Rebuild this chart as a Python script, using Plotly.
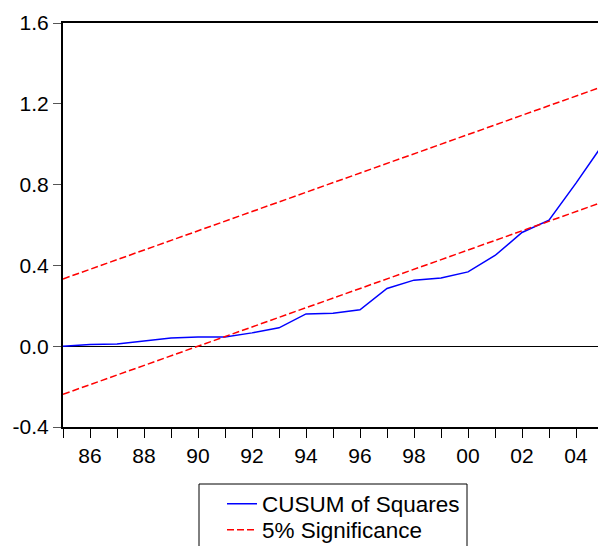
import plotly.graph_objects as go

years = list(range(1985, 2006))
cusum_sq = [0.000, 0.008, 0.011, 0.025, 0.041, 0.045, 0.046, 0.066, 0.091, 0.160,
            0.163, 0.180, 0.286, 0.327, 0.338, 0.368, 0.449, 0.563, 0.624, 0.807, 1.000]
sig_years = [1985, 2005]
sig_upper = [0.333, 1.286]
sig_lower = [-0.238, 0.714]

xtick_vals = list(range(1985, 2005))
xtick_text = ["" if y % 2 else f"{y % 100:02d}" for y in xtick_vals]
ytick_vals = [-0.4, 0.0, 0.4, 0.8, 1.2, 1.6]
ytick_text = ["-0.4", "0.0", "0.4", "0.8", "1.2", "1.6"]

W, H = 598, 546
L, R, T, B = 63, 0, 23, 119
pw = W - L - R
ph = H - T - B

def px_x(p):
    return (p - L) / pw

def px_y(p):
    return (H - B - p) / ph

fig = go.Figure()
fig.add_trace(go.Scatter(x=years, y=cusum_sq, mode="lines", name="CUSUM of Squares",
                         legend="legend",
                         line=dict(color="#0000ff", width=1.5)))
fig.add_trace(go.Scatter(x=sig_years + [None] + sig_years,
                         y=sig_upper + [None] + sig_lower,
                         mode="lines", name="5% Significance", connectgaps=False,
                         legend="legend2",
                         line=dict(color="#ff0000", width=1.5, dash="7px,3px")))

fig.add_shape(type="rect", xref="paper", yref="paper",
              x0=px_x(199), x1=px_x(467), y0=px_y(484), y1=px_y(580),
              line=dict(color="black", width=1), fillcolor="rgba(0,0,0,0)")

font = "Liberation Sans, Arial, sans-serif"
leg_common = dict(xanchor="left", yanchor="middle",
                  bgcolor="rgba(0,0,0,0)", borderwidth=0,
                  font=dict(family=font, size=22.5, color="black"))
fig.update_layout(
    width=W, height=H,
    margin=dict(l=L, r=R, t=T, b=B, pad=0, autoexpand=False),
    paper_bgcolor="white", plot_bgcolor="white",
    font=dict(family=font, size=21, color="black"),
    showlegend=True,
    legend=dict(x=px_x(222), y=px_y(504), **leg_common),
    legend2=dict(x=px_x(222), y=px_y(530), **leg_common),
    xaxis=dict(range=[1985, 1985 + pw / 27.0], tickmode="array",
               tickvals=xtick_vals, ticktext=xtick_text,
               ticks="outside", ticklen=9, tickwidth=1, tickcolor="black",
               showline=True, linecolor="black", linewidth=2, mirror=True,
               showgrid=False, zeroline=False,
               tickfont=dict(family=font, size=21)),
    yaxis=dict(range=[-0.4, 1.6], tickmode="array",
               tickvals=ytick_vals, ticktext=ytick_text,
               ticks="outside", ticklen=8, tickwidth=1, tickcolor="#555555",
               showline=True, linecolor="black", linewidth=2, mirror=False,
               showgrid=False, zeroline=True, zerolinecolor="black", zerolinewidth=1,
               tickfont=dict(family=font, size=21)),
)

fig.write_html("out.html")
